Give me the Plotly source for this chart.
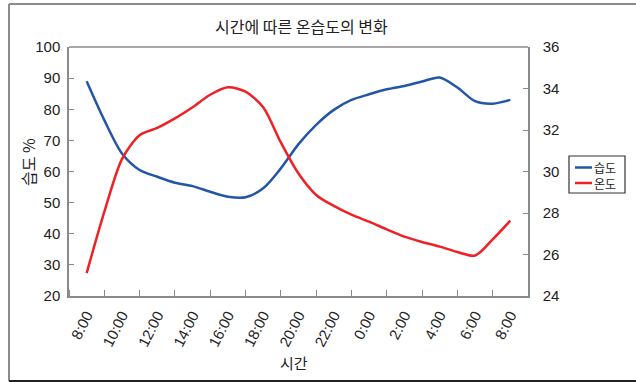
import plotly.graph_objects as go

# ---- data ----
hour_offsets = [0, 1, 2, 3, 4, 5, 6, 7, 8, 9, 10, 11, 12,
                13, 14, 15, 16, 17, 18, 19, 20, 21, 22, 23, 24]
humidity = [89.0, 76.5, 65.8, 60.5, 58.3, 56.4, 55.3, 53.5, 51.9, 51.7, 54.6, 61.0, 68.8,
            75.0, 79.8, 83.0, 84.8, 86.4, 87.5, 88.9, 90.2, 87.0, 82.6, 81.8, 83.0]
temperature = [25.1, 28.05, 30.6, 31.75, 32.1, 32.56, 33.1, 33.7, 34.06, 33.85, 33.1, 31.4, 29.9,
               28.87, 28.34, 27.92, 27.58, 27.21, 26.86, 26.6, 26.38, 26.12, 25.95, 26.73, 27.63]
tick_positions = [0, 2, 4, 6, 8, 10, 12, 14, 16, 18, 20, 22, 24]
tick_labels = ["8:00", "10:00", "12:00", "14:00", "16:00", "18:00", "20:00",
               "22:00", "0:00", "2:00", "4:00", "6:00", "8:00"]
band_edges = [-1, 1, 3, 5, 7, 9, 11, 13, 15, 17, 19, 21, 23, 25]
series_names = ["습도", "온도"]

BLUE = "#2456a8"
RED = "#ee2226"
AXIS = "#8a8a8a"
TXT = "#222222"
FONT = "Liberation Sans, Arial, Noto Sans CJK KR, sans-serif"
KFONT = "Noto Sans CJK KR, sans-serif"

fig = go.Figure()
fig.add_trace(go.Scatter(x=hour_offsets, y=humidity, name=series_names[0], mode="lines",
                         line=dict(color=BLUE, width=2.5, shape="spline", smoothing=0.8),
                         yaxis="y", showlegend=False))
fig.add_trace(go.Scatter(x=hour_offsets, y=temperature, name=series_names[1], mode="lines",
                         line=dict(color=RED, width=2.5, shape="spline", smoothing=0.8),
                         yaxis="y2", showlegend=False))

L, R, T, B = 69, 108, 47, 86
W, H = 636, 382
pw, ph = W - L - R, H - T - B

def px(xp):
    return (xp - L) / pw

def py(yp):
    return (H - B - yp) / ph

fig.update_layout(
    width=W, height=H,
    margin=dict(l=L, r=R, t=T, b=B, pad=0),
    paper_bgcolor="white", plot_bgcolor="white",
    font=dict(family=FONT, size=15, color=TXT),
    xaxis=dict(range=[-1, 25], tickvals=tick_positions, ticktext=tick_labels,
               tickangle=-63, ticks="", showgrid=False, zeroline=False,
               showline=True, linecolor=AXIS, linewidth=1.5,
               tickfont=dict(size=15, color=TXT, family=FONT),
               ticklabelstandoff=3,
               minor=dict(tickvals=band_edges, ticks="inside", ticklen=6,
                          tickcolor=AXIS, tickwidth=1.2, showgrid=False)),
    yaxis=dict(range=[20, 100], dtick=10, ticks="inside", ticklen=5, tickcolor=AXIS,
               tickwidth=1.2, showgrid=False, zeroline=False, showline=True,
               linecolor=AXIS, linewidth=1.5, ticklabelstandoff=4,
               tickfont=dict(size=15, color=TXT, family=FONT)),
    yaxis2=dict(range=[24, 36], dtick=2, ticks="inside", ticklen=5, tickcolor=AXIS,
                tickwidth=1.2, overlaying="y", side="right", anchor="x",
                showgrid=False, zeroline=False, showline=True, linecolor=AXIS,
                linewidth=1.5, ticklabelstandoff=10,
                tickfont=dict(size=15, color=TXT, family=FONT)),
    showlegend=False,
)

# top frame line of plot area
fig.add_shape(type="line", xref="paper", yref="paper", x0=0, x1=1, y0=1, y1=1,
              line=dict(color=AXIS, width=1.5))

# outer chart border
fig.add_shape(type="line", xref="paper", yref="paper", x0=px(9), x1=px(640), y0=py(4), y1=py(4),
              line=dict(color="#8c8c8c", width=2))
fig.add_shape(type="line", xref="paper", yref="paper", x0=px(9), x1=px(9), y0=py(4), y1=py(381),
              line=dict(color="#8c8c8c", width=2))
fig.add_shape(type="line", xref="paper", yref="paper", x0=px(9), x1=px(640), y0=py(381), y1=py(381),
              line=dict(color="#222222", width=2))

# title
fig.add_annotation(text="시간에 따른 온습도의 변화", xref="paper", yref="paper",
                   x=px(301), y=py(26), xanchor="center", yanchor="middle", showarrow=False,
                   font=dict(family=KFONT, size=16, color=TXT))
# axis titles
fig.add_annotation(text="습도 %", xref="paper", yref="paper", x=px(28), y=py(162),
                   xanchor="center", yanchor="middle", showarrow=False, textangle=-90,
                   font=dict(family=KFONT, size=16, color=TXT))
fig.add_annotation(text="시간", xref="paper", yref="paper", x=px(294), y=py(362),
                   xanchor="center", yanchor="middle",
                   showarrow=False, font=dict(family=KFONT, size=15, color=TXT))

# manual legend
fig.add_shape(type="rect", xref="paper", yref="paper", x0=px(569), x1=px(625),
              y0=py(193), y1=py(156), line=dict(color="#333333", width=1.2),
              fillcolor="white")
for color, yy in [(BLUE, 167.5), (RED, 183)]:
    fig.add_shape(type="line", xref="paper", yref="paper", x0=px(575), x1=px(592),
                  y0=py(yy), y1=py(yy), line=dict(color=color, width=2.5))
fig.add_annotation(text="<br>".join(series_names), xref="paper", yref="paper",
                   x=px(593), y=py(175.5), xanchor="left", yanchor="middle",
                   align="left", showarrow=False, borderpad=0,
                   font=dict(family=KFONT, size=12, color=TXT))

fig.write_html("out.html")
